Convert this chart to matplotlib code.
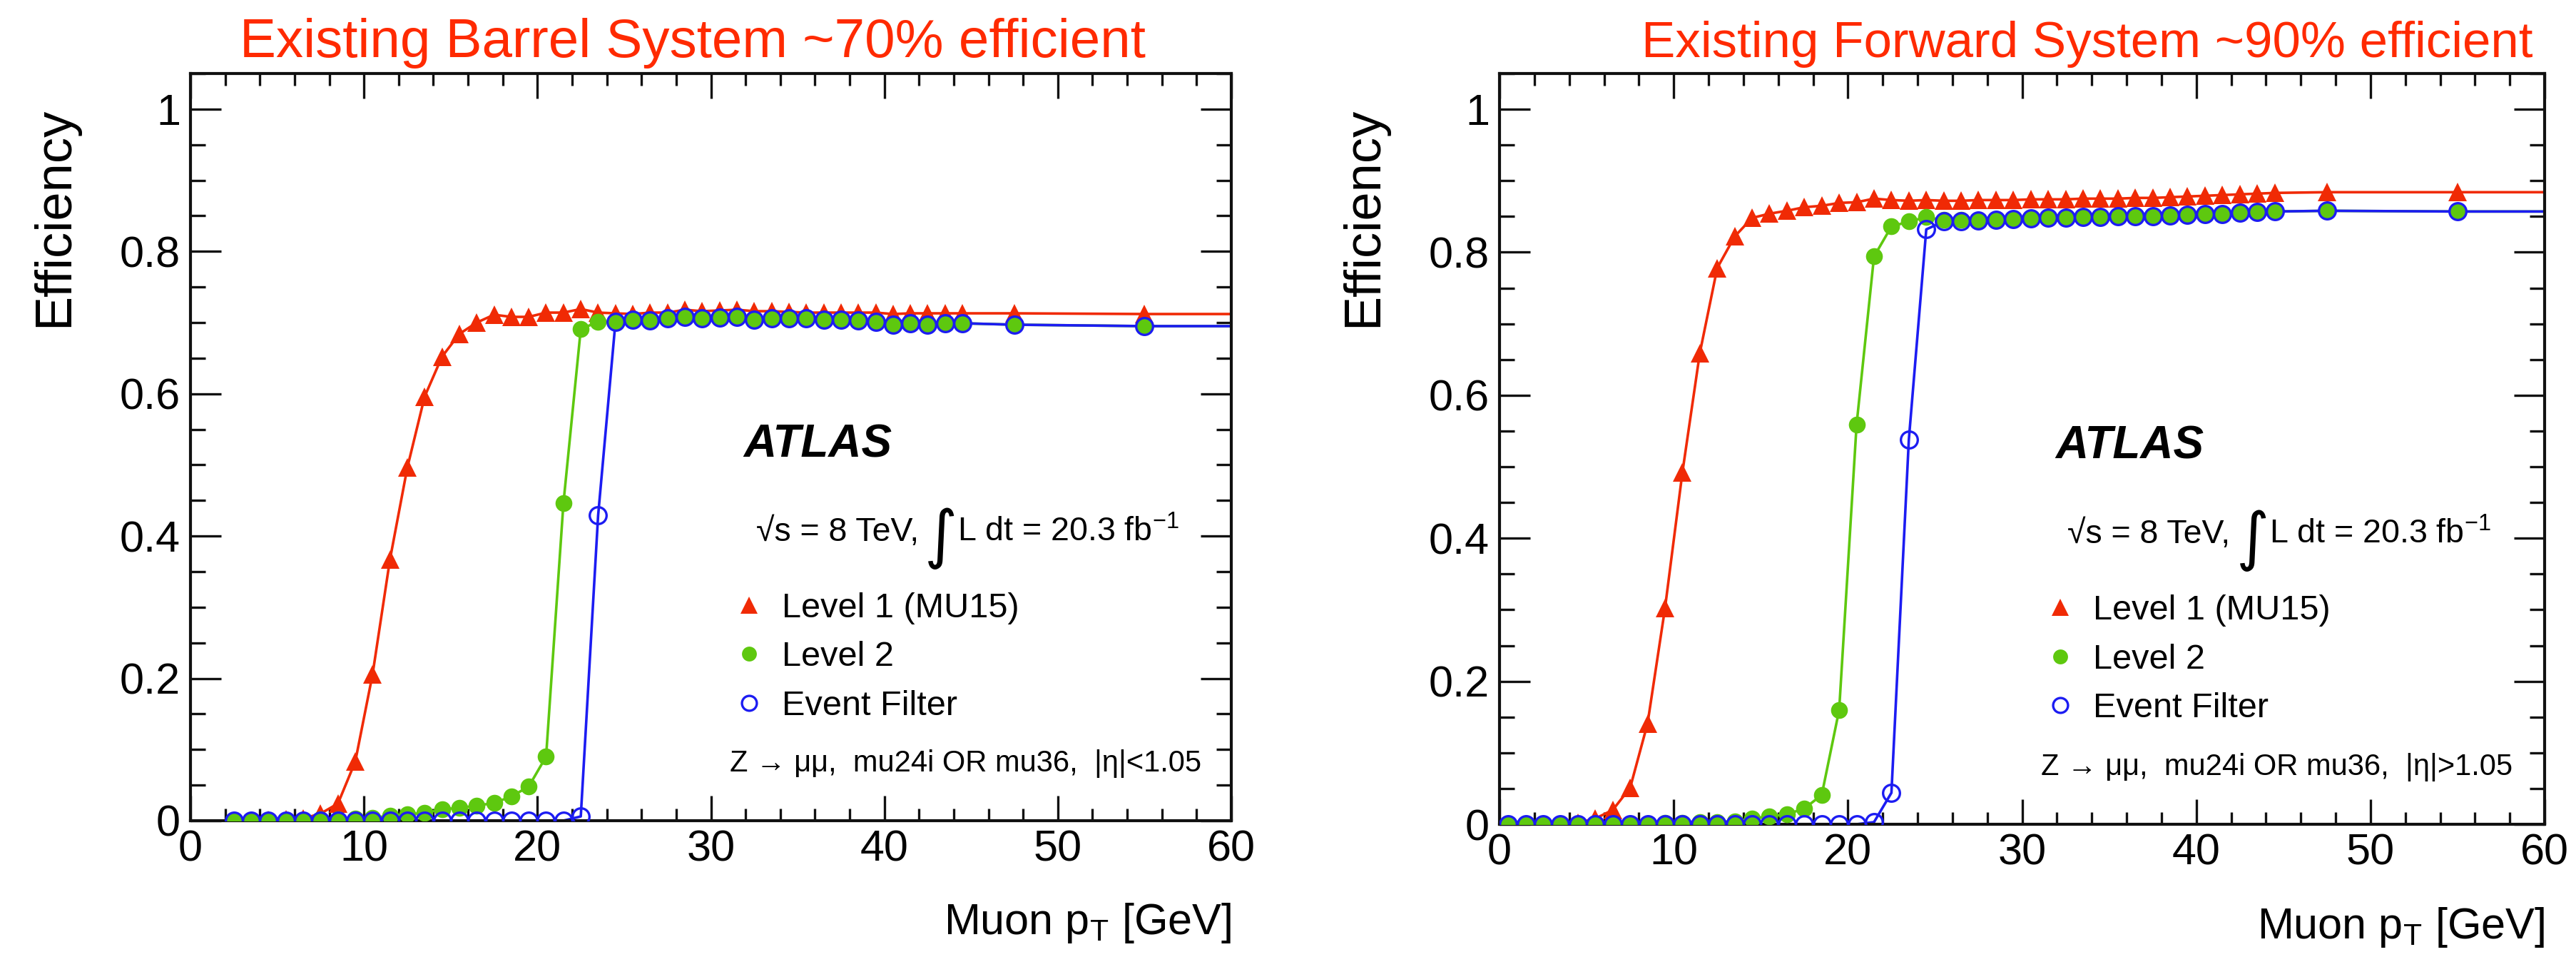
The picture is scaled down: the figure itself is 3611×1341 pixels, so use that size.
import numpy as np
import matplotlib
matplotlib.use('Agg')
import matplotlib.pyplot as plt
from matplotlib.lines import Line2D
from matplotlib.ticker import MultipleLocator

plt.rcParams['font.family'] = ['Liberation Sans', 'DejaVu Sans']
plt.rcParams['mathtext.fontset'] = 'custom'
plt.rcParams['mathtext.rm'] = 'Liberation Sans'
plt.rcParams['mathtext.it'] = 'Liberation Sans:italic'
plt.rcParams['mathtext.bf'] = 'Liberation Sans:bold'

# ---------------- data ----------------
titles = ["Existing Barrel System ~70% efficient",
          "Existing Forward System ~90% efficient"]
region_labels = ["Z \u2192 \u03bc\u03bc,  mu24i OR mu36,  |\u03b7|<1.05",
                 "Z \u2192 \u03bc\u03bc,  mu24i OR mu36,  |\u03b7|>1.05"]
series_names = ["Level 1 (MU15)", "Level 2", "Event Filter"]
x_ticks = [0, 10, 20, 30, 40, 50, 60]
y_ticks = [0, 0.2, 0.4, 0.6, 0.8, 1.0]
y_tick_labels = ["0", "0.2", "0.4", "0.6", "0.8", "1"]

barrel_pt = [2.5, 3.5, 4.5, 5.5, 6.5, 7.5, 8.5, 9.5, 10.5, 11.5, 12.5, 13.5, 14.5,
             15.5, 16.5, 17.5, 18.5, 19.5, 20.5, 21.5, 22.5, 23.5, 24.5, 25.5, 26.5,
             27.5, 28.5, 29.5, 30.5, 31.5, 32.5, 33.5, 34.5, 35.5, 36.5, 37.5, 38.5,
             39.5, 40.5, 41.5, 42.5, 43.5, 44.5, 47.5, 55.0]
barrel_l1 = [0.000, 0.000, 0.001, 0.002, 0.003, 0.010, 0.024, 0.083, 0.206, 0.367,
             0.496, 0.596, 0.652, 0.684, 0.700, 0.711, 0.708, 0.708, 0.714, 0.714,
             0.719, 0.714, 0.713, 0.712, 0.714, 0.714, 0.718, 0.716, 0.717, 0.718,
             0.716, 0.716, 0.715, 0.714, 0.714, 0.714, 0.714, 0.714, 0.712, 0.713,
             0.713, 0.713, 0.713, 0.713, 0.712]
barrel_l2 = [0.000, 0.000, 0.000, 0.001, 0.001, 0.002, 0.002, 0.003, 0.004, 0.007,
             0.009, 0.011, 0.016, 0.018, 0.021, 0.025, 0.034, 0.048, 0.090, 0.446,
             0.691, 0.701, 0.701, 0.704, 0.703, 0.706, 0.708, 0.706, 0.707, 0.708,
             0.704, 0.706, 0.706, 0.706, 0.704, 0.704, 0.703, 0.701, 0.697, 0.699,
             0.697, 0.699, 0.699, 0.697, 0.695]
barrel_ef = [0.000, 0.000, 0.000, 0.000, 0.000, 0.000, 0.000, 0.000, 0.000, 0.000,
             0.000, 0.000, 0.000, 0.000, 0.000, 0.000, 0.000, 0.000, 0.000, 0.000,
             0.006, 0.429, 0.701, 0.704, 0.703, 0.706, 0.708, 0.706, 0.707, 0.708,
             0.704, 0.706, 0.706, 0.706, 0.704, 0.704, 0.703, 0.701, 0.697, 0.699,
             0.697, 0.699, 0.699, 0.697, 0.695]

forward_pt = [0.5, 1.5, 2.5, 3.5, 4.5, 5.5, 6.5, 7.5, 8.5, 9.5, 10.5, 11.5, 12.5,
              13.5, 14.5, 15.5, 16.5, 17.5, 18.5, 19.5, 20.5, 21.5, 22.5, 23.5, 24.5,
              25.5, 26.5, 27.5, 28.5, 29.5, 30.5, 31.5, 32.5, 33.5, 34.5, 35.5, 36.5,
              37.5, 38.5, 39.5, 40.5, 41.5, 42.5, 43.5, 44.5, 47.5, 55.0]
forward_l1 = [0.000, 0.000, 0.000, 0.000, 0.002, 0.008, 0.020, 0.051, 0.141, 0.302,
              0.492, 0.659, 0.778, 0.822, 0.848, 0.854, 0.858, 0.863, 0.865, 0.869,
              0.870, 0.875, 0.873, 0.872, 0.873, 0.872, 0.872, 0.873, 0.873, 0.873,
              0.874, 0.874, 0.874, 0.875, 0.875, 0.875, 0.876, 0.876, 0.877, 0.878,
              0.879, 0.880, 0.881, 0.882, 0.883, 0.884, 0.884]
forward_l2 = [0.000, 0.000, 0.000, 0.000, 0.000, 0.000, 0.000, 0.001, 0.001, 0.002,
              0.002, 0.003, 0.003, 0.004, 0.008, 0.011, 0.014, 0.022, 0.041, 0.160,
              0.559, 0.794, 0.836, 0.843, 0.849, 0.845, 0.845, 0.844, 0.845, 0.846,
              0.847, 0.848, 0.848, 0.849, 0.849, 0.850, 0.850, 0.850, 0.851, 0.852,
              0.853, 0.853, 0.855, 0.856, 0.857, 0.858, 0.857]
forward_ef = [0.000, 0.000, 0.000, 0.000, 0.000, 0.000, 0.000, 0.000, 0.000, 0.000,
              0.000, 0.000, 0.000, 0.000, 0.000, 0.000, 0.000, 0.000, 0.000, 0.000,
              0.000, 0.003, 0.044, 0.538, 0.832, 0.843, 0.843, 0.844, 0.845, 0.846,
              0.847, 0.848, 0.848, 0.849, 0.849, 0.850, 0.850, 0.850, 0.851, 0.852,
              0.853, 0.853, 0.855, 0.856, 0.857, 0.858, 0.857]

RED = '#F02A05'
GREEN = '#5EC80F'
BLUE = '#1C1CF2'
TITLE_RED = '#FF2A00'

W, H = 3611, 1341
fig = plt.figure(figsize=(W / 100, H / 100), dpi=100)


def px_rect(x0, x1, ytop_of_zero, ytop):
    return [x0 / W, (H - ytop_of_zero) / H, (x1 - x0) / W, (ytop_of_zero - ytop) / H]


def draw_panel(rect, pt, l1, l2, ef, title, title_xc, title_fs, region, ylabel_x):
    ax = fig.add_axes(rect)
    xmax = x_ticks[-1]
    # series: lines extended flat to the axis end as in the original fit curves
    for vals, col, mk, mfc, mew, ms in [
        (l1, RED, '^', RED, 0, 19),
        (l2, GREEN, 'o', GREEN, 0, 17),
        (ef, BLUE, 'o', 'none', 2.4, 17),
    ]:
        ax.plot(list(pt) + [xmax], list(vals) + [vals[-1]], color=col, lw=2.6,
                solid_joinstyle='round', zorder=2)
        ax.plot(pt, vals, linestyle='none', marker=mk, ms=ms, mfc=mfc, mec=col,
                mew=mew, zorder=3)
    ax.set_xlim(0, 60)
    ax.set_ylim(0, 1.05)
    ax.set_xticks(x_ticks)
    ax.set_xticklabels([str(v) for v in x_ticks])
    ax.set_yticks(y_ticks)
    ax.set_yticklabels(y_tick_labels)
    ax.xaxis.set_minor_locator(MultipleLocator(2))
    ax.yaxis.set_minor_locator(MultipleLocator(0.05))
    ax.tick_params(axis='both', which='both', direction='in', top=True, right=True,
                   width=2.4, color='#111111')
    ax.tick_params(axis='x', which='major', length=25, labelsize=44, pad=9)
    ax.tick_params(axis='x', which='minor', length=12)
    ax.tick_params(axis='y', which='major', length=31, labelsize=44, pad=10)
    ax.tick_params(axis='y', which='minor', length=15)
    for s in ax.spines.values():
        s.set_linewidth(3.0)
        s.set_color('#111111')

    # title
    fig.text(title_xc / W, (H - 80) / H, title, color=TITLE_RED, fontsize=title_fs,
             ha='center', va='baseline')
    # axis labels
    fig.text(ylabel_x / W, (H - 150) / H, "Efficiency", rotation=90, fontsize=52,
             ha='center', va='top')
    ax.text(1.0, -0.152, "Muon p$_{\\mathregular{T}}$ [GeV]", transform=ax.transAxes,
            fontsize=44, ha='right', va='baseline')

    # ATLAS label and info
    ax.text(31.9, 0.528, "ATLAS", fontsize=46, fontweight='bold', fontstyle='italic',
            ha='left', va='center')
    ax.text(32.6, 0.393, "\u221as = 8 TeV,", fontsize=33.5, ha='left', va='baseline')
    ax.text(42.3, 0.372, "\u222b", fontsize=64, ha='left', va='baseline',
            family=['DejaVu Sans'])
    ax.text(44.2, 0.393, "L dt = 20.3 fb$^{\\mathregular{-1}}$", fontsize=33.5,
            ha='left', va='baseline')
    ax.text(31.1, 0.080, region, fontsize=30, ha='left', va='center')

    handles = [
        Line2D([], [], linestyle='none', marker='^', ms=17, mfc=RED, mec=RED, mew=0),
        Line2D([], [], linestyle='none', marker='o', ms=15, mfc=GREEN, mec=GREEN, mew=0),
        Line2D([], [], linestyle='none', marker='o', ms=15, mfc='none', mec=BLUE, mew=2.4),
    ]
    ax.legend(handles, series_names, loc='upper left', bbox_to_anchor=(31.2, 0.321),
              bbox_transform=ax.transData, frameon=False, fontsize=35,
              handlelength=1.0, handletextpad=0.45, labelspacing=0.48,
              borderpad=0, borderaxespad=0)
    return ax


draw_panel(px_rect(267, 1726, 1150, 103), barrel_pt, barrel_l1, barrel_l2, barrel_ef,
           titles[0], 971, 55, region_labels[0], 77)
draw_panel(px_rect(2102, 3567, 1155, 103), forward_pt, forward_l1, forward_l2, forward_ef,
           titles[1], 2926, 51, region_labels[1], 1912)

fig.savefig('out.png', dpi=100)
